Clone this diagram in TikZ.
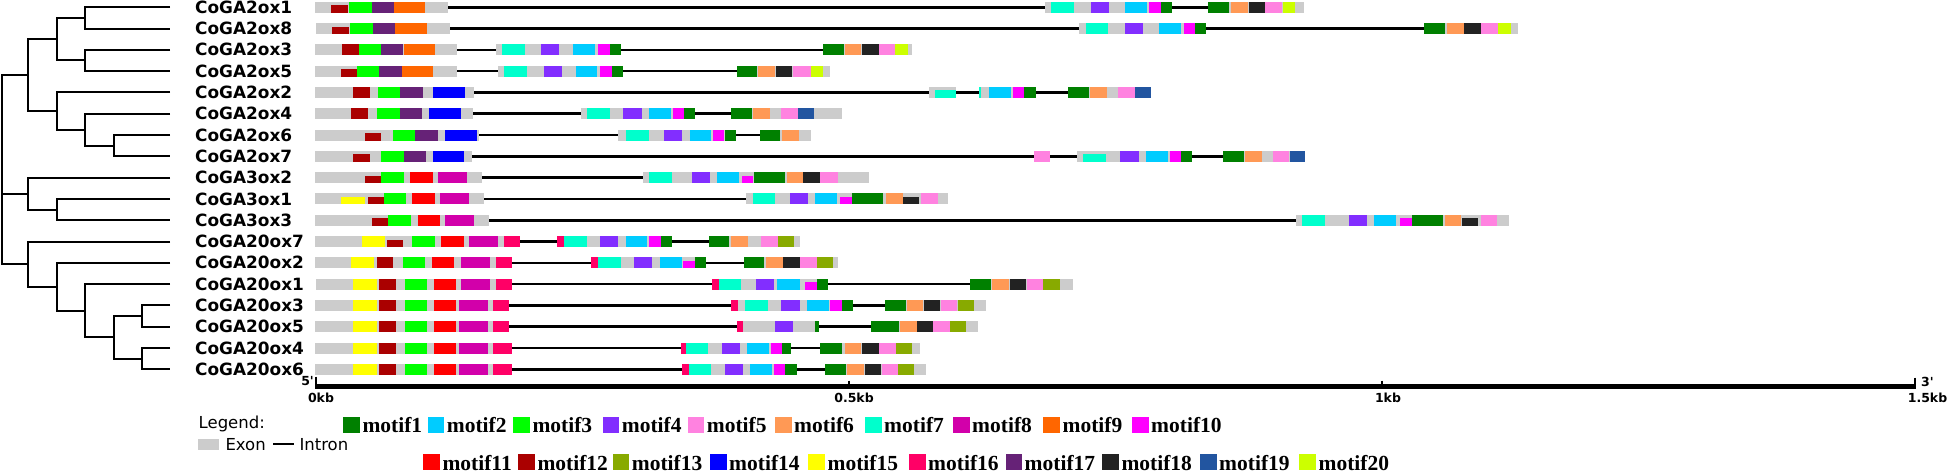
\documentclass[tikz,border=0pt]{standalone}
\usepackage{fontspec}
\newfontfamily\vsans{DejaVu Sans}
\newfontfamily\lser{Liberation Serif}
\definecolor{exg}{RGB}{204,204,204}
\definecolor{m1}{RGB}{0,128,0}
\definecolor{m2}{RGB}{0,204,255}
\definecolor{m3}{RGB}{0,255,0}
\definecolor{m4}{RGB}{130,46,255}
\definecolor{m5}{RGB}{255,130,224}
\definecolor{m6}{RGB}{255,153,85}
\definecolor{m7}{RGB}{0,255,204}
\definecolor{m8}{RGB}{210,0,170}
\definecolor{m9}{RGB}{255,102,0}
\definecolor{m10}{RGB}{255,0,255}
\definecolor{m11}{RGB}{255,0,0}
\definecolor{m12}{RGB}{170,0,0}
\definecolor{m13}{RGB}{136,170,0}
\definecolor{m14}{RGB}{0,0,255}
\definecolor{m15}{RGB}{255,255,0}
\definecolor{m16}{RGB}{255,0,102}
\definecolor{m17}{RGB}{102,34,119}
\definecolor{m18}{RGB}{34,34,34}
\definecolor{m19}{RGB}{34,85,160}
\definecolor{m20}{RGB}{204,255,0}
\newcommand\ry{0}
\newcommand\setrow[1]{\renewcommand\ry{#1}}
\newcommand\exo[2]{\fill[exg] (#1,\ry-5.5) rectangle (#2,\ry+5.5);}
\newcommand\mot[3]{\fill[#3] (#1,\ry-5.5) rectangle (#2,\ry+5.5);}
\newcommand\mlo[3]{\fill[#3] (#1,\ry-2) rectangle (#2,\ry+5.5);}
\newcommand\ilin[2]{\draw[intron] (#1,\ry) -- (#2,\ry);}
\newcommand\legent[4]{\fill[#3] (#1,#2-15.6) rectangle (#1+16.5,#2);
  \node[leg] (L#4) at (#1+19,#2) {#4};}
\tikzset{
  intron/.style={line width=2.6pt,black},
  tree/.style={line width=2pt,black,line join=miter},
  gname/.style={anchor=west,inner sep=0pt,font=\vsans\bfseries\fontsize{16.9}{18}\selectfont},
  sclab/.style={inner sep=0pt,font=\vsans\bfseries\fontsize{12.5}{14}\selectfont},
  leg/.style={anchor=base west,inner sep=0pt,font=\lser\bfseries\fontsize{21.5}{24}\selectfont},
  legtxt/.style={anchor=base west,inner sep=0pt,font=\vsans\fontsize{16.5}{18}\selectfont}
}
\begin{document}
\begin{tikzpicture}[x=1pt,y=-1pt]
\useasboundingbox (0,0) rectangle (1947,471);
\fill[white] (0,0) rectangle (1947,471);
% ---------- tree ----------
\foreach \i/\yy in {1/7.2,2/28.5,3/49.8,4/71.1,5/92.4,6/113.7,7/135.0,8/156.3,9/177.6,10/198.9,11/220.2,12/241.5,13/262.8,14/284.1,15/305.4,16/326.7,17/348.0,18/369.3}
  {\coordinate (t\i) at (170,\yy);}
\coordinate (n12) at (85,17.85);
\coordinate (n34) at (85,60.45);
\coordinate (nA) at (57.3,39.15);
\coordinate (n67) at (114,145.65);
\coordinate (n467) at (85,129.7);
\coordinate (nB) at (57.3,111.05);
\coordinate (nG2) at (28.3,75.1);
\coordinate (n3o13) at (57.3,209.55);
\coordinate (nG3) at (28.3,193.6);
\coordinate (n35) at (141.7,316.05);
\coordinate (n46) at (141.7,358.65);
\coordinate (n3546) at (114,337.35);
\coordinate (n1x) at (85,310.7);
\coordinate (n2x) at (57.3,286.75);
\coordinate (nG20) at (28.3,264.1);
\coordinate (root) at (1.5,169.6);
\draw[tree] (t1) -| (n12) |- (t2);
\draw[tree] (t3) -| (n34) |- (t4);
\draw[tree] (n12) -| (nA) |- (n34);
\draw[tree] (t7) -| (n67) |- (t8);
\draw[tree] (t6) -| (n467) |- (n67);
\draw[tree] (t5) -| (nB) |- (n467);
\draw[tree] (nA) -| (nG2) |- (nB);
\draw[tree] (t10) -| (n3o13) |- (t11);
\draw[tree] (t9) -| (nG3) |- (n3o13);
\draw[tree] (t15) -| (n35) |- (t16);
\draw[tree] (t17) -| (n46) |- (t18);
\draw[tree] (n35) -| (n3546) |- (n46);
\draw[tree] (t14) -| (n1x) |- (n3546);
\draw[tree] (t13) -| (n2x) |- (n1x);
\draw[tree] (t12) -| (nG20) |- (n2x);
\draw[tree] (nG2) -| (root) |- (nG20);
\draw[tree] (nG3) -- (root |- nG3);
% ---------- names ----------
\foreach \i/\nm in {1/CoGA2ox1,2/CoGA2ox8,3/CoGA2ox3,4/CoGA2ox5,5/CoGA2ox2,6/CoGA2ox4,7/CoGA2ox6,8/CoGA2ox7,9/CoGA3ox2,10/CoGA3ox1,11/CoGA3ox3,12/CoGA20ox7,13/CoGA20ox2,14/CoGA20ox1,15/CoGA20ox3,16/CoGA20ox5,17/CoGA20ox4,18/CoGA20ox6}
  {\node[gname] (g\i) at (195,0 |- t\i) {\nm};}
% ---------- genes ----------
% 1 CoGA2ox1
\setrow{7.2}
\ilin{448}{1208}
\exo{315}{448.3}\mlo{331}{347.7}{m12}\mot{349}{371.7}{m3}\mot{371.7}{394}{m17}\mot{394}{425.3}{m9}
\exo{1045}{1172}\mot{1051.4}{1074}{m7}\mot{1090.8}{1109.2}{m4}\mot{1125}{1147}{m2}\mot{1149}{1161}{m10}\mot{1161}{1172}{m1}
\exo{1208}{1304.4}\mot{1208}{1228.6}{m1}\mot{1230.5}{1247.7}{m6}\mot{1248.5}{1265}{m18}\mot{1265}{1282}{m5}\mot{1283}{1294.8}{m20}
% 2 CoGA2ox8
\setrow{28.5}
\ilin{450}{1424.4}
\exo{315.7}{450}\mlo{332}{348.7}{m12}\mot{349.7}{372.7}{m3}\mot{372.7}{395}{m17}\mot{395}{426.7}{m9}
\exo{1079}{1206.4}\mot{1085.5}{1108}{m7}\mot{1125}{1143}{m4}\mot{1159}{1181}{m2}\mot{1183.5}{1195}{m10}\mot{1195}{1206.4}{m1}
\exo{1424.4}{1518}\mot{1424.4}{1445}{m1}\mot{1446.7}{1464}{m6}\mot{1464}{1480.6}{m18}\mot{1481.4}{1498.3}{m5}\mot{1498.3}{1510.7}{m20}
% 3 CoGA2ox3
\setrow{49.8}
\ilin{456}{823}
\exo{315}{456.7}\mot{342.3}{358.7}{m12}\mot{358.7}{381}{m3}\mot{381}{403.3}{m17}\mot{404.3}{435}{m9}
\exo{495.7}{620.7}\mot{501.7}{524.7}{m7}\mot{541}{559.3}{m4}\mot{573}{595}{m2}\mot{597.7}{609.7}{m10}\mot{609.7}{620.7}{m1}
\exo{823}{911.7}\mot{823}{844}{m1}\mot{845}{861}{m6}\mot{862.4}{878.5}{m18}\mot{878.5}{895}{m5}\mot{895}{908.3}{m20}
% 4 CoGA2ox5
\setrow{71.1}
\ilin{457}{736.7}
\exo{315}{457.3}\mlo{340.7}{356.7}{m12}\mot{356.7}{379}{m3}\mot{379}{401.7}{m17}\mot{401.7}{433}{m9}
\exo{497.7}{622.7}\mot{504}{526.7}{m7}\mot{543.7}{562}{m4}\mot{575.7}{597}{m2}\mot{600}{611.7}{m10}\mot{611.7}{622.7}{m1}
\exo{736.7}{829.5}\mot{736.7}{757}{m1}\mot{758.3}{775.3}{m6}\mot{776}{792.3}{m18}\mot{793.3}{810.7}{m5}\mot{810.7}{823}{m20}
% 5 CoGA2ox2
\setrow{92.4}
\ilin{474}{1068.3}
\exo{315}{474}\mot{353.3}{370}{m12}\mot{377.7}{400.3}{m3}\mot{400.3}{422.7}{m17}\mot{433.3}{465}{m14}
\exo{929}{955.8}\mlo{935}{955.8}{m7}
\exo{978.7}{1035.7}\mot{978.7}{980.5}{m7}\mot{989.4}{1011}{m2}\mot{1012.8}{1024}{m10}\mot{1024}{1035.7}{m1}
\exo{1068.3}{1150.6}\mot{1068.3}{1089}{m1}\mot{1090}{1107}{m6}\mot{1118.4}{1135}{m5}\mot{1135}{1150.6}{m19}
% 6 CoGA2ox4
\setrow{113.7}
\ilin{473}{731}
\exo{315}{473.3}\mot{351.3}{368}{m12}\mot{377}{399.7}{m3}\mot{399.7}{422}{m17}\mot{429}{460.7}{m14}
\exo{581}{695}\mot{587}{610}{m7}\mot{623}{642}{m4}\mot{649}{671}{m2}\mot{672.7}{684}{m10}\mot{684}{695}{m1}
\exo{731}{842}\mot{731}{751.7}{m1}\mot{753.3}{770}{m6}\mot{781}{798.3}{m5}\mot{798.3}{814}{m19}
% 7 CoGA2ox6
\setrow{135.0}
\ilin{478}{760}
\exo{315}{478.7}\mlo{365}{381.3}{m12}\mot{393}{415.3}{m3}\mot{415.3}{437.7}{m17}\mot{444.7}{476.7}{m14}
\exo{618.3}{735.7}\mot{625.7}{648.7}{m7}\mot{664.3}{682.3}{m4}\mot{690}{711}{m2}\mot{713}{724.3}{m10}\mot{724.7}{735.7}{m1}
\exo{760}{810.7}\mot{760}{780}{m1}\mot{781.7}{799}{m6}
% 8 CoGA2ox7
\setrow{156.3}
\ilin{472}{1222.9}
\exo{315}{472.3}\mlo{353.3}{370}{m12}\mot{381}{403.7}{m3}\mot{403.7}{426.3}{m17}\mot{432.7}{464}{m14}
\mot{1034.2}{1050}{m5}
\exo{1076.7}{1192.3}\mlo{1083.2}{1106.2}{m7}\mot{1120}{1139}{m4}\mot{1146.3}{1168.2}{m2}\mot{1170}{1181.2}{m10}\mot{1181.2}{1192.3}{m1}
\exo{1222.9}{1305}\mot{1222.9}{1244}{m1}\mot{1245}{1262}{m6}\mot{1273}{1289}{m5}\mot{1290}{1305}{m19}
% 9 CoGA3ox2
\setrow{177.6}
\ilin{481}{643}
\exo{315}{481.7}\mlo{365}{381}{m12}\mot{381}{403.7}{m3}\mot{410}{433}{m11}\mot{437.7}{466.7}{m8}
\exo{643}{869}\mot{649}{671.7}{m7}\mot{691.7}{710}{m4}\mot{717}{739}{m2}\mlo{742}{753.3}{m10}\mot{754}{785}{m1}\mot{786.7}{803}{m6}\mot{803}{820}{m18}\mot{820}{837.5}{m5}
% 10 CoGA3ox1
\setrow{198.9}
\ilin{484}{746.3}
\exo{315}{484}\mlo{341}{365}{m15}\mlo{367.7}{383.7}{m12}\mot{383.7}{406}{m3}\mot{412}{435}{m11}\mot{440}{469}{m8}
\exo{746.3}{948}\mot{752.7}{775}{m7}\mot{789.7}{807.7}{m4}\mot{815.3}{837}{m2}\mlo{840}{851.7}{m10}\mot{851.7}{883}{m1}\mot{886}{902.6}{m6}\mlo{903.3}{919.4}{m18}\mot{921}{937.8}{m5}
% 11 CoGA3ox3
\setrow{220.2}
\ilin{489}{1295.6}
\exo{315}{489}\mlo{371.7}{388}{m12}\mot{388}{411.3}{m3}\mot{417.7}{440.3}{m11}\mot{445}{474.3}{m8}
\exo{1295.6}{1508.7}\mot{1301.7}{1324.7}{m7}\mot{1348.8}{1367.2}{m4}\mot{1374}{1396.3}{m2}\mlo{1400}{1412}{m10}\mot{1412}{1443.4}{m1}\mot{1445}{1460.7}{m6}\mlo{1462.4}{1478}{m18}\mot{1481.4}{1497}{m5}
% 12 CoGA20ox7
\setrow{241.5}
\ilin{520}{708.7}
\exo{315}{520.3}\mot{361.7}{385}{m15}\mlo{386.7}{403}{m12}\mot{412}{435}{m3}\mot{441}{464}{m11}\mot{469}{498}{m8}\mot{504}{520.3}{m16}
\exo{557.3}{671.7}\mot{557.3}{564}{m16}\mot{564}{586.7}{m7}\mot{600}{618.3}{m4}\mot{625.7}{647}{m2}\mot{649}{661}{m10}\mot{661}{671.7}{m1}
\exo{708.7}{800}\mot{708.7}{729.3}{m1}\mot{730.7}{747.7}{m6}\mot{761}{777.7}{m5}\mot{777.7}{793.7}{m13}
% 13 CoGA20ox2
\setrow{262.8}
\ilin{512}{744.3}
\exo{315}{512}\mot{351.3}{374}{m15}\mot{377}{393.3}{m12}\mot{402.7}{425.3}{m3}\mot{431.7}{454}{m11}\mot{461}{490.3}{m8}\mot{495.7}{512}{m16}
\exo{591.3}{706}\mot{591.3}{597.7}{m16}\mot{597.7}{620.7}{m7}\mot{634}{652.3}{m4}\mot{659.7}{681.7}{m2}\mlo{683}{694.7}{m10}\mot{694.7}{706}{m1}
\exo{744.3}{838.3}\mot{744.3}{764.3}{m1}\mot{766}{782.7}{m6}\mot{783.3}{800}{m18}\mot{800}{817.2}{m5}\mot{817.2}{833.3}{m13}
% 14 CoGA20ox1
\setrow{284.1}
\ilin{512}{969.5}
\exo{316}{512}\mot{353.3}{376.7}{m15}\mot{379}{395.7}{m12}\mot{405}{427.3}{m3}\mot{433.7}{456.3}{m11}\mot{461}{490.3}{m8}\mot{495.7}{512}{m16}
\exo{712.3}{827.6}\mot{712.3}{719}{m16}\mot{719}{741.3}{m7}\mot{755.7}{774}{m4}\mot{777}{800}{m2}\mlo{804.6}{816.5}{m10}\mot{816.5}{827.6}{m1}
\exo{969.5}{1072.5}\mot{969.5}{990.6}{m1}\mot{992}{1008.6}{m6}\mot{1010}{1025.8}{m18}\mot{1026.6}{1043}{m5}\mot{1043}{1059.5}{m13}
% 15 CoGA20ox3
\setrow{305.4}
\ilin{509}{884.6}
\exo{315}{509.3}\mot{353.3}{376.7}{m15}\mot{379}{395.7}{m12}\mot{405}{427.3}{m3}\mot{433.7}{456.3}{m11}\mot{459}{488.3}{m8}\mot{493.3}{509.3}{m16}
\exo{731.3}{852.8}\mot{731.3}{737.7}{m16}\mot{745}{767.7}{m7}\mot{781}{800}{m4}\mot{807}{829}{m2}\mot{830}{842}{m10}\mot{842}{852.8}{m1}
\exo{884.6}{985.6}\mot{884.6}{905.6}{m1}\mot{906.8}{923.2}{m6}\mot{924.4}{940.4}{m18}\mot{941.2}{957.3}{m5}\mot{958}{974}{m13}
% 16 CoGA20ox5
\setrow{326.7}
\ilin{509}{871}
\exo{315}{509.3}\mot{353.3}{376.7}{m15}\mot{379}{395.7}{m12}\mot{405}{427.3}{m3}\mot{433.7}{456.3}{m11}\mot{459}{488.3}{m8}\mot{493.3}{509.3}{m16}
\exo{737}{819}\mot{737}{743.3}{m16}\mot{774.7}{793.3}{m4}\mot{815.3}{819}{m1}
\exo{871}{978}\mot{871}{899}{m1}\mot{900}{916.7}{m6}\mot{916.7}{933}{m18}\mot{933}{950}{m5}\mot{950}{966}{m13}
% 17 CoGA20ox4
\setrow{348.0}
\ilin{512}{820}
\exo{315}{512}\mot{353.3}{376.7}{m15}\mot{379}{395.7}{m12}\mot{404.7}{427.3}{m3}\mot{433.7}{456.3}{m11}\mot{459}{488.3}{m8}\mot{493.3}{512}{m16}
\exo{681}{791}\mot{681}{685.7}{m16}\mot{685.7}{708}{m7}\mot{721.7}{740}{m4}\mot{747}{769}{m2}\mot{770.7}{782}{m10}\mot{782}{791}{m1}
\exo{820}{920.2}\mot{820}{842}{m1}\mot{844.8}{861.2}{m6}\mot{862}{878.5}{m18}\mot{879.2}{895.7}{m5}\mot{895.7}{912}{m13}
% 18 CoGA20ox6
\setrow{369.3}
\ilin{512}{825}
\exo{315}{512}\mot{353.3}{376.7}{m15}\mot{379}{395.7}{m12}\mot{404.7}{427.3}{m3}\mot{433.7}{456.3}{m11}\mot{459}{488.3}{m8}\mot{493.3}{512}{m16}
\exo{682}{796.7}\mot{682}{688.7}{m16}\mot{688.7}{711}{m7}\mot{724.7}{743}{m4}\mot{750}{772}{m2}\mot{773.7}{785.3}{m10}\mot{785.3}{796.7}{m1}
\exo{825}{925.5}\mot{825}{846}{m1}\mot{846.7}{864}{m6}\mot{864.7}{881}{m18}\mot{881.5}{898}{m5}\mot{898}{914}{m13}
% ---------- scale ----------
\coordinate (s0) at (315,386.5);
\coordinate (s15) at (1915.7,386.5);
\draw[line width=4.3pt] (s0) -- (s15);
\draw[line width=2pt] (315.8,376.5) -- (315.8,386.5);
\draw[line width=2pt] (1914.9,377.5) -- (1914.9,386.5);
\draw[line width=1.5pt] (849,380.5) -- (849,386.5);
\draw[line width=1.5pt] (1382,380.5) -- (1382,386.5);
\node[sclab,anchor=east] (p5) at (314,381.5) {5'};
\node[sclab,anchor=west] (p3) at (1921,381.5) {3'};
\node[sclab] (k0) at (321,397.5) {0kb};
\node[sclab] (k05) at (854,397.5) {0.5kb};
\node[sclab] (k1) at (1388,397.5) {1kb};
\node[sclab] (k15) at (1927.5,397.5) {1.5kb};
% ---------- legend ----------
\node[legtxt] (lg) at (198.5,428.7) {Legend:};
\fill[exg] (197.7,439.3) rectangle (219.3,450);
\node[legtxt] (lex) at (225.3,450) {Exon};
\draw[line width=2pt] (273.3,444) -- (294,444);
\node[legtxt] (lin) at (299.3,450) {Intron};
\legent{343.3}{432.7}{m1}{motif1}
\legent{427.7}{432.7}{m2}{motif2}
\legent{513.3}{432.7}{m3}{motif3}
\legent{602.7}{432.7}{m4}{motif4}
\legent{687.7}{432.7}{m5}{motif5}
\legent{775}{432.7}{m6}{motif6}
\legent{865}{432.7}{m7}{motif7}
\legent{953}{432.7}{m8}{motif8}
\legent{1043.4}{432.7}{m9}{motif9}
\legent{1132}{432.7}{m10}{motif10}
\legent{423.3}{470}{m11}{motif11}
\legent{518.3}{470}{m12}{motif12}
\legent{612.7}{470}{m13}{motif13}
\legent{710}{470}{m14}{motif14}
\legent{808.4}{470}{m15}{motif15}
\legent{909}{470}{m16}{motif16}
\legent{1005.5}{470}{m17}{motif17}
\legent{1102.3}{470}{m18}{motif18}
\legent{1200}{470}{m19}{motif19}
\legent{1299.4}{470}{m20}{motif20}
\end{tikzpicture}
\end{document}
